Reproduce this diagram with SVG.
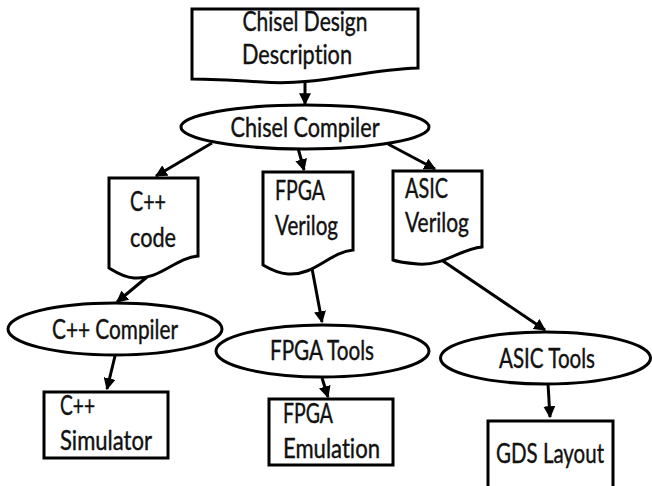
<svg xmlns="http://www.w3.org/2000/svg" width="652" height="486" viewBox="0 0 652 486">
  <style>
    .shape { fill: #ffffff; stroke: #000000; stroke-width: 3; }
    .edge { fill: none; stroke: #000000; stroke-width: 3; marker-end: url(#head); }
    .label { font-family: Lato, "Liberation Sans", sans-serif; font-size: 26px; fill: #111111; stroke: #111111; stroke-width: 0.4; font-variant-ligatures: none; }
    .mid { text-anchor: middle; }
  </style>
  <defs>
    <marker id="head" viewBox="0 0 10 10" refX="9" refY="5" markerWidth="4" markerHeight="4" orient="auto" markerUnits="strokeWidth">
      <path d="M0,0 L10,5 L0,10 z" fill="#000000"/>
    </marker>
  </defs>
  <rect width="652" height="486" fill="#ffffff"/>

  <g id="connectors">
    <line class="edge" x1="305" y1="81" x2="305" y2="104"/>
    <line class="edge" x1="212" y1="143" x2="156" y2="176"/>
    <line class="edge" x1="298" y1="148" x2="304" y2="170"/>
    <line class="edge" x1="388" y1="144" x2="435" y2="169"/>
    <line class="edge" x1="147" y1="277" x2="117" y2="302"/>
    <line class="edge" x1="311" y1="263" x2="322" y2="322"/>
    <line class="edge" x1="440" y1="259" x2="545" y2="330"/>
    <line class="edge" x1="115" y1="356" x2="107" y2="389"/>
    <line class="edge" x1="322" y1="378" x2="328" y2="397"/>
    <line class="edge" x1="548" y1="384" x2="550" y2="417"/>
  </g>

  <g id="chisel-design">
    <path class="shape" d="M192,9 H418 V68 C360,70 320,86 262,82 C230,80 205,79 192,79 Z"/>
    <text class="label mid" x="305" y="31" textLength="125" lengthAdjust="spacingAndGlyphs">Chisel Design</text>
    <text class="label" x="242" y="64" textLength="110" lengthAdjust="spacingAndGlyphs">Description</text>
  </g>

  <g id="chisel-compiler">
    <ellipse class="shape" cx="305" cy="127" rx="124" ry="22"/>
    <text class="label mid" x="305" y="137" textLength="149" lengthAdjust="spacingAndGlyphs">Chisel Compiler</text>
  </g>

  <g id="cpp-code">
    <path class="shape" d="M109,178 H198 V256 C175,258 160,280 134,278 C122,277 114,271 109,268 Z"/>
    <text class="label" x="130" y="211" textLength="36" lengthAdjust="spacingAndGlyphs">C++</text>
    <text class="label" x="130" y="247" textLength="46" lengthAdjust="spacingAndGlyphs">code</text>
  </g>

  <g id="fpga-verilog">
    <path class="shape" d="M263,172 H353 V250 C330,252 314,276 288,274 C276,273 268,268 263,265 Z"/>
    <text class="label" x="275" y="200" textLength="50" lengthAdjust="spacingAndGlyphs">FPGA</text>
    <text class="label" x="275" y="235" textLength="63" lengthAdjust="spacingAndGlyphs">Verilog</text>
  </g>

  <g id="asic-verilog">
    <path class="shape" d="M393,171 H482 V247 C460,249 444,266 418,264 C406,263 398,262 393,260 Z"/>
    <text class="label" x="405" y="198" textLength="43" lengthAdjust="spacingAndGlyphs">ASIC</text>
    <text class="label" x="405" y="232" textLength="64" lengthAdjust="spacingAndGlyphs">Verilog</text>
  </g>

  <g id="cpp-compiler">
    <ellipse class="shape" cx="115" cy="329" rx="107" ry="26"/>
    <text class="label mid" x="115" y="339" textLength="126" lengthAdjust="spacingAndGlyphs">C++ Compiler</text>
  </g>

  <g id="fpga-tools">
    <ellipse class="shape" cx="322.5" cy="351" rx="106.5" ry="26"/>
    <text class="label mid" x="322" y="360" textLength="104" lengthAdjust="spacingAndGlyphs">FPGA Tools</text>
  </g>

  <g id="asic-tools">
    <ellipse class="shape" cx="545.5" cy="358" rx="105" ry="26"/>
    <text class="label mid" x="547" y="368" textLength="96" lengthAdjust="spacingAndGlyphs">ASIC Tools</text>
  </g>

  <g id="cpp-simulator">
    <rect class="shape" x="44" y="392" width="124" height="66"/>
    <text class="label" x="60" y="415" textLength="35" lengthAdjust="spacingAndGlyphs">C++</text>
    <text class="label" x="60" y="450" textLength="92" lengthAdjust="spacingAndGlyphs">Simulator</text>
  </g>

  <g id="fpga-emulation">
    <rect class="shape" x="269" y="399" width="124" height="66"/>
    <text class="label" x="283" y="423" textLength="50" lengthAdjust="spacingAndGlyphs">FPGA</text>
    <text class="label" x="283" y="458" textLength="97" lengthAdjust="spacingAndGlyphs">Emulation</text>
  </g>

  <g id="gds-layout">
    <rect class="shape" x="488" y="421" width="125" height="80"/>
    <text class="label mid" x="550" y="463" textLength="108" lengthAdjust="spacingAndGlyphs">GDS Layout</text>
  </g>
</svg>
